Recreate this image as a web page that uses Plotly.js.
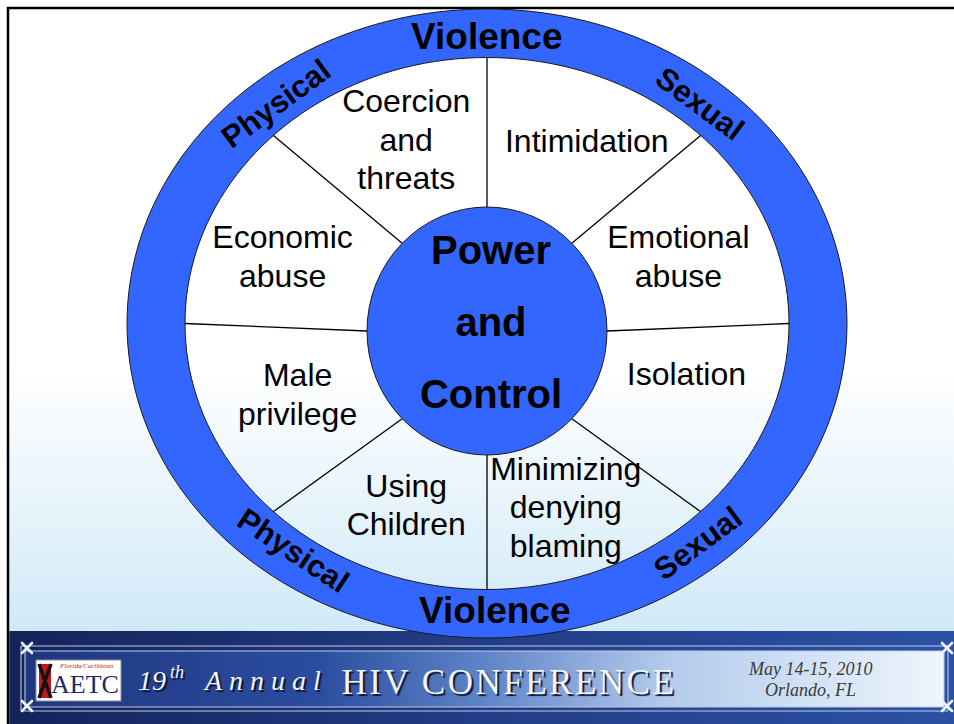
<!DOCTYPE html>
<html>
<head>
<meta charset="utf-8">
<script src="https://cdn.plot.ly/plotly-3.0.1.min.js"></script>
<style>
html,body{margin:0;padding:0;background:#ffffff;}
#chart{width:954px;height:724px;}
</style>
</head>
<body>
<div id="chart"></div>
<script>
// ---------------- data ----------------
const segmentLabels = [
  "Emotional<br>abuse",
  "Intimidation",
  "Coercion<br>and<br>threats",
  "Economic<br>abuse",
  "Male<br>privilege",
  "Using<br>Children",
  "Minimizing<br>denying<br>blaming",
  "Isolation"
];
const centerLabel = ["Power", "and", "Control"];
const ringLabels = ["Violence", "Sexual", "Physical", "Physical", "Violence", "Sexual"];
const footerTitle = ["19", "th", "Annual", "HIV CONFERENCE"];
const footerDate = ["May 14-15, 2010", "Orlando, FL"];
const logoText = ["AETC", "Florida/Caribbean"];

// ---------------- layout geometry (pixels of the 954x724 page) ----------------
const W = 954, H = 724;
const C = {x: 487, y: 323.5};
const OUTER = {rx: 360, ry: 314.5};
const INNER = {rx: 302, ry: 266};
const HUB = {x: 487, y: 331, rx: 120, ry: 124};
const RING = {rx: (OUTER.rx + INNER.rx) / 2, ry: (OUTER.ry + INNER.ry) / 2, f: 0.99};
const ringAngles = [90, 50, 130, -127, -90, -50];
const ringNudge = [[0, 0], [2, 0], [0, 0], [3, -2], [8, 0], [0, 0]];
// small hand offsets of the text blocks inside each wedge
const segNudge = [[0, 6], [13, 5], [6, 4], [-13, 6], [2, 4], [6, 0], [-8, 2], [8, -16]];
const SEG_LINE = 38.5;
const CENTER_LINE = 72;
const BLUE = "#3366ff";
const rad = d => d * Math.PI / 180;

function ellipsePts(e, reverse) {
  const pts = [];
  for (let i = 0; i <= 180; i++) {
    const t = rad((reverse ? -i : i) * 2);
    pts.push([(C.x + e.rx * Math.cos(t)).toFixed(2), (C.y - e.ry * Math.sin(t)).toFixed(2)]);
  }
  return "M" + pts.map(p => p.join(",")).join("L") + "Z";
}
const ringPath = ellipsePts(OUTER, false) + ellipsePts(INNER, true);

const shapes = [];
shapes.push({type: "path", path: ringPath, xref: "x", yref: "y", fillcolor: BLUE,
  line: {color: "#1a1a1a", width: 1}, layer: "below"});
for (let k = 0; k < 8; k++) {
  const a = rad(k * 45);
  shapes.push({type: "line", xref: "x", yref: "y", layer: "below",
    x0: HUB.x + HUB.rx * Math.cos(a), y0: HUB.y - HUB.ry * Math.sin(a),
    x1: C.x + INNER.rx * Math.cos(a), y1: C.y - INNER.ry * Math.sin(a),
    line: {color: "#000000", width: 1.3}});
}
shapes.push({type: "circle", xref: "x", yref: "y", layer: "below",
  x0: HUB.x - HUB.rx, x1: HUB.x + HUB.rx, y0: HUB.y - HUB.ry, y1: HUB.y + HUB.ry,
  fillcolor: BLUE, line: {color: "#1a1a1a", width: 1}});

const segX = [], segY = [], segT = [];
segmentLabels.forEach((s, k) => {
  const a = rad(22.5 + 45 * k);
  const f = 0.64 + 0.12 * Math.abs(Math.sin(a));
  const cx = C.x + INNER.rx * f * Math.cos(a) + segNudge[k][0];
  const cy = C.y - INNER.ry * f * Math.sin(a) + segNudge[k][1];
  const lines = s.split("<br>");
  lines.forEach((ln, j) => {
    segX.push(cx);
    segY.push(cy + (j - (lines.length - 1) / 2) * SEG_LINE);
    segT.push(ln);
  });
});

const traces = [
  {type: "scatter", mode: "text", x: segX, y: segY, text: segT,
   textposition: "middle center", cliponaxis: false, hoverinfo: "skip", showlegend: false,
   textfont: {family: "Liberation Sans, Arial, sans-serif", size: 32, color: "#000000"}},
  {type: "scatter", mode: "text",
   x: centerLabel.map(() => HUB.x + 4),
   y: centerLabel.map((s, i) => C.y + 2.5 + (i - 1) * CENTER_LINE),
   text: centerLabel, textposition: "middle center", cliponaxis: false,
   hoverinfo: "skip", showlegend: false,
   textfont: {family: "Liberation Sans, Arial, sans-serif", size: 40, color: "#000000", weight: "bold"}}
];

function tangentAngle(tDeg) {
  const t = rad(tDeg);
  let dx = -RING.rx * Math.sin(t), dy = RING.ry * Math.cos(t);
  if (dx < 0) { dx = -dx; dy = -dy; }
  return -Math.atan2(dy, dx) * 180 / Math.PI;
}
const annotations = ringLabels.map((s, i) => {
  const t = rad(ringAngles[i]);
  return {text: "<b>" + s + "</b>", xref: "x", yref: "y", showarrow: false,
    x: C.x + RING.rx * RING.f * Math.cos(t) + ringNudge[i][0],
    y: C.y - RING.ry * RING.f * Math.sin(t) + ringNudge[i][1],
    xanchor: "center", yanchor: "middle", textangle: tangentAngle(ringAngles[i]),
    font: {family: "Liberation Sans, Arial, sans-serif", size: s === "Violence" ? 37 : 31, color: "#000000"}};
});

const serif = "Liberation Serif, Times New Roman, serif";
const titleFont = {family: serif, color: "#f1f4fb", shadow: "2px 2px 1px #0d1433"};
const titleSpec = [
  {x: 136, y: 680, size: 28, style: "italic", spacing: 0},
  {x: 168, y: 672, size: 18, style: "italic", spacing: 0},
  {x: 201, y: 680, size: 28, style: "italic", spacing: 7},
  {x: 339, y: 682, size: 35, style: "normal", spacing: 2.5}
];
footerTitle.forEach((s, i) => {
  const sp = titleSpec[i];
  // the text is centred in its box, so letter spacing spreads to both sides: pre-shift by half
  annotations.push({text: s, xref: "x", yref: "y", showarrow: false,
    x: sp.x + sp.spacing * s.length / 2, y: sp.y, xanchor: "left", yanchor: "middle",
    font: Object.assign({size: sp.size, style: sp.style}, titleFont)});
});
footerDate.forEach((s, i) => {
  annotations.push({text: s, xref: "x", yref: "y", showarrow: false,
    x: 810, y: 669 + i * 21, xanchor: "center", yanchor: "middle",
    font: {family: serif, size: 18, color: "#3a3a3a", style: "italic"}});
});
annotations.push({text: logoText[0], xref: "x", yref: "y", showarrow: false,
  x: 85, y: 684, xanchor: "center", yanchor: "middle",
  font: {family: serif, size: 26, color: "#1d2b6b"}});
annotations.push({text: logoText[1], xref: "x", yref: "y", showarrow: false,
  x: 86, y: 666, xanchor: "center", yanchor: "middle",
  font: {family: serif, size: 7, color: "#b22a2e", style: "italic"}});

function xMark(cx, cy) {
  return `<path d="M${cx-5},${cy-5}L${cx+5},${cy+5}M${cx+5},${cy-5}L${cx-5},${cy+5}" stroke="#eef3fb" stroke-width="2.6" stroke-linecap="round"/>`;
}
const bgSvg = `<svg xmlns="http://www.w3.org/2000/svg" width="954" height="724" viewBox="0 0 954 724">
<defs>
<linearGradient id="sky" gradientUnits="userSpaceOnUse" x1="0" y1="370" x2="0" y2="632">
<stop offset="0" stop-color="#ffffff"/><stop offset="1" stop-color="#d0e9f8"/></linearGradient>
<linearGradient id="navy" x1="0" y1="0" x2="1" y2="0">
<stop offset="0" stop-color="#15235a"/><stop offset="0.5" stop-color="#223d88"/><stop offset="1" stop-color="#2c51a4"/></linearGradient>
<linearGradient id="band" x1="0" y1="0" x2="1" y2="0">
<stop offset="0" stop-color="#1f3680"/><stop offset="0.32" stop-color="#2b4d9f"/><stop offset="0.5" stop-color="#5f84c8"/>
<stop offset="0.7" stop-color="#b4cbec"/><stop offset="1" stop-color="#eef6fd"/></linearGradient>
</defs>
<rect x="0" y="0" width="954" height="724" fill="#ffffff"/>
<rect x="8" y="8" width="970" height="740" fill="url(#sky)" stroke="#000000" stroke-width="2.5"/>
<rect x="9.3" y="631" width="950" height="100" fill="url(#navy)"/>
<rect x="25" y="651" width="919" height="56" fill="url(#band)"/>
<g stroke="#bccbe6" stroke-width="1.1" fill="none">
<path d="M21,646H948M25,651H944M25,707H944M21,711H948M21,646V711M25,651V707M948,646V711M944,651V707"/>
</g>
${xMark(27,648)}${xMark(27,706)}${xMark(947,648)}${xMark(947,706)}
<rect x="36" y="660" width="85" height="41" fill="#ffffff" stroke="#8d8d8d" stroke-width="1"/>
<rect x="39" y="664" width="12" height="34" fill="#c3161d"/>
<path d="M39,664L51,698M51,664L39,698" stroke="#111111" stroke-width="3.5"/>
</svg>`;

const layout = {
  width: W, height: H,
  margin: {l: 0, r: 0, t: 0, b: 0, pad: 0},
  paper_bgcolor: "#ffffff", plot_bgcolor: "rgba(0,0,0,0)",
  xaxis: {range: [0, W], visible: false, fixedrange: true},
  yaxis: {range: [H, 0], visible: false, fixedrange: true},
  showlegend: false,
  shapes: shapes,
  annotations: annotations,
  images: [{source: "data:image/svg+xml;charset=utf-8," + encodeURIComponent(bgSvg),
    xref: "paper", yref: "paper", x: 0, y: 1, sizex: 1, sizey: 1,
    xanchor: "left", yanchor: "top", sizing: "stretch", layer: "below"}]
};

Plotly.newPlot("chart", traces, layout, {staticPlot: true, displayModeBar: false}).then(gd => {
  gd.querySelectorAll(".annotation-text").forEach(el => {
    const i = footerTitle.indexOf(el.textContent);
    if (i >= 0 && titleSpec[i].spacing) el.style.letterSpacing = titleSpec[i].spacing + "px";
  });
});
</script>
</body>
</html>
